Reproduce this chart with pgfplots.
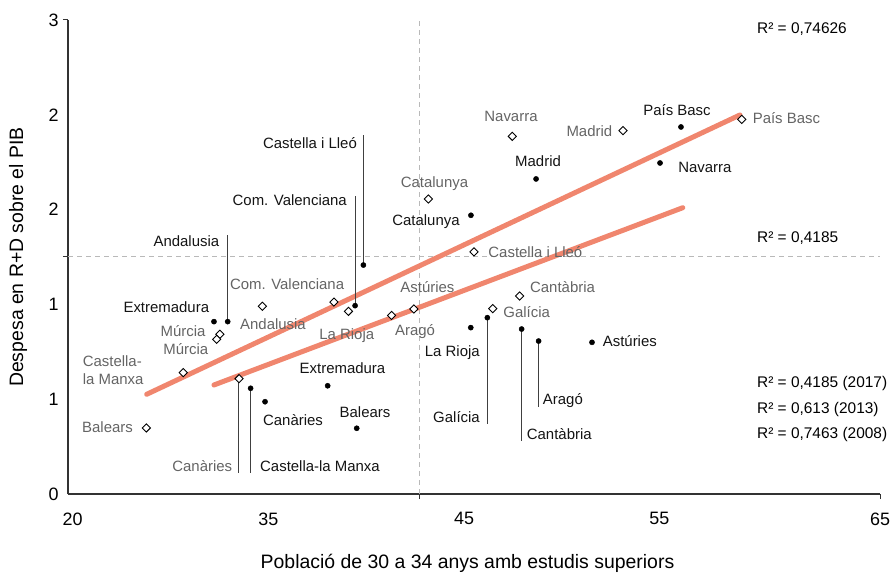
\documentclass[border=0pt]{standalone}
\usepackage{fontspec}
\setmainfont{Liberation Sans}
\usepackage{pgfplots}
\pgfplotsset{compat=1.18}
\definecolor{trend}{RGB}{240,134,110}
\definecolor{labgray}{RGB}{100,100,100}
\definecolor{refgray}{RGB}{185,185,185}
\begin{document}
\begin{tikzpicture}[
  lab/.style={font=\fontsize{15}{17.5}\selectfont, inner sep=0pt, text=black!92, yshift=-3bp},
  glab/.style={lab, text=labgray},
  r2/.style={font=\fontsize{15.5}{18}\selectfont, inner sep=0pt, anchor=mid west, yshift=-4bp},
  leader/.style={black!75, line width=1bp},
]
\begin{axis}[
  name=ax,
  scale only axis, width=812bp, height=474bp,
  xmin=20, xmax=65, ymin=0, ymax=3,
  axis lines=left,
  axis line style={black!80, line width=1.1bp, -},
  xtick={20.26,31.1,41.95,52.77,65}, xticklabels={20,35,45,55,65},
  ytick={0,0.6,1.2,1.8,2.4,3}, yticklabels={0,1,1,2,2,3},
  major tick length=0pt,
  extra x ticks={39.5,65}, extra x tick labels={},
  extra y ticks={1.5,3}, extra y tick labels={},
  extra tick style={major tick length=5bp, tick align=outside, tick style={black!80, line width=1bp}},
  ticklabel style={font=\fontsize{18}{20}\selectfont},
  xticklabel style={yshift=-15bp},
  yticklabel style={xshift=-6bp},
  xlabel={Població de 30 a 34 anys amb estudis superiors},
  ylabel={Despesa en R+D sobre el PIB},
  label style={font=\fontsize{19.5}{22}\selectfont},
  xlabel style={at={(axis description cs:0.492,-0.146)}, anchor=center},
  ylabel style={at={(axis description cs:-0.0616,0.5)}, anchor=center},
  clip=false,
]
% reference lines
\addplot[refgray, line width=1bp, dash pattern=on 5bp off 4bp] coordinates {(39.5,0) (39.5,3)};
\addplot[refgray, line width=1bp, dash pattern=on 5bp off 4bp] coordinates {(20,1.5) (65,1.5)};
% trend lines
\addplot[trend, line width=5bp, line cap=round] coordinates {(24.36,0.631) (57.24,2.399)};
\addplot[trend, line width=5bp, line cap=round] coordinates {(28.09,0.690) (54.07,1.812)};
% leader lines
\addplot[leader] coordinates {(36.37,1.449) (36.37,2.272)};
\addplot[leader] coordinates {(35.91,1.192) (35.91,1.886)};
\addplot[leader] coordinates {(28.85,1.091) (28.85,1.639)};
\addplot[leader] coordinates {(30.12,0.669) (30.12,0.135)};
\addplot[leader] coordinates {(29.45,0.730) (29.45,0.135)};
\addplot[leader] coordinates {(43.24,1.116) (43.24,0.443)};
\addplot[leader] coordinates {(45.14,1.044) (45.14,0.335)};
\addplot[leader] coordinates {(46.08,0.968) (46.08,0.553)};
% black dots
\addplot[only marks, mark=*, mark size=2.6bp, black] coordinates {
(53.97,2.323) (52.81,2.095) (45.94,1.994) (42.33,1.764) (36.37,1.449)
(35.91,1.192) (28.85,1.091) (28.09,1.091) (34.39,0.685) (36.00,0.416)
(30.92,0.584) (30.12,0.669) (42.32,1.053) (43.24,1.116) (45.14,1.044)
(46.08,0.968) (49.04,0.960)
};
% diamonds
\addplot[only marks, mark=square*, mark size=2.9bp, mark options={rotate=45, fill=white, draw=black, line width=0.9bp}] coordinates {
(57.34,2.371) (50.76,2.300) (44.62,2.264) (39.97,1.867) (42.50,1.532)
(45.03,1.253) (43.54,1.173) (39.17,1.171) (37.93,1.130) (35.54,1.156)
(34.74,1.215) (30.77,1.188) (28.42,1.011) (28.24,0.979) (26.39,0.768)
(29.48,0.730) (24.34,0.418)
};
% black labels
\node[lab, anchor=mid] at (axis cs:53.75,2.430) {País Basc};
\node[lab, anchor=mid west] at (axis cs:53.81,2.072) {Navarra};
\node[lab, anchor=mid] at (axis cs:46.05,2.108) {Madrid};
\node[lab, anchor=mid] at (axis cs:39.84,1.734) {Catalunya};
\node[lab, anchor=mid east] at (axis cs:36.02,2.222) {Castella i Lleó};
\node[lab, anchor=mid east] at (axis cs:35.46,1.861) {Com. Valenciana};
\node[lab, anchor=mid east] at (axis cs:28.39,1.601) {Andalusia};
\node[lab, anchor=mid east] at (axis cs:27.83,1.186) {Extremadura};
\node[lab, anchor=mid] at (axis cs:35.21,0.796) {Extremadura};
\node[lab, anchor=mid] at (axis cs:36.46,0.521) {Balears};
\node[lab, anchor=mid] at (axis cs:32.47,0.468) {Canàries};
\node[lab, anchor=mid west] at (axis cs:30.64,0.177) {Castella-la Manxa};
\node[lab, anchor=mid east] at (axis cs:42.83,0.905) {La Rioja};
\node[lab, anchor=mid east] at (axis cs:42.83,0.489) {Galícia};
\node[lab, anchor=mid west] at (axis cs:45.42,0.378) {Cantàbria};
\node[lab, anchor=mid west] at (axis cs:46.31,0.601) {Aragó};
\node[lab, anchor=mid west] at (axis cs:49.63,0.968) {Astúries};
% gray labels
\node[glab, anchor=mid west] at (axis cs:57.94,2.378) {País Basc};
\node[glab, anchor=mid east] at (axis cs:50.17,2.297) {Madrid};
\node[glab, anchor=mid] at (axis cs:44.55,2.392) {Navarra};
\node[glab, anchor=mid] at (axis cs:40.31,1.973) {Catalunya};
\node[glab, anchor=mid west] at (axis cs:43.29,1.530) {Castella i Lleó};
\node[glab, anchor=mid west] at (axis cs:45.60,1.308) {Cantàbria};
\node[glab, anchor=mid west] at (axis cs:44.12,1.150) {Galícia};
\node[glab, anchor=mid] at (axis cs:39.92,1.308) {Astúries};
\node[glab, anchor=mid] at (axis cs:39.23,1.038) {Aragó};
\node[glab, anchor=mid] at (axis cs:35.45,1.011) {La Rioja};
\node[glab, anchor=mid] at (axis cs:32.14,1.329) {Com. Valenciana};
\node[glab, anchor=mid] at (axis cs:31.36,1.074) {Andalusia};
\node[glab, anchor=mid] at (axis cs:26.38,1.032) {Múrcia};
\node[glab, anchor=mid] at (axis cs:26.53,0.916) {Múrcia};
\node[glab, anchor=west, align=left] at (axis cs:20.81,0.804) {Castella-\\la Manxa};
\node[glab, anchor=mid east] at (axis cs:29.11,0.177) {Canàries};
\node[glab, anchor=mid] at (axis cs:22.19,0.426) {Balears};
% R2 notes
\node[r2] at (axis cs:58.18,2.956) {R² = 0,74626};
\node[r2] at (axis cs:58.18,1.633) {R² = 0,4185};
\node[r2] at (axis cs:58.18,0.717) {R² = 0,4185 (2017)};
\node[r2] at (axis cs:58.18,0.552) {R² = 0,613 (2013)};
\node[r2] at (axis cs:58.18,0.392) {R² = 0,7463 (2008)};
\end{axis}
\pgfresetboundingbox
\path (ax.south west) ++(-68bp,-81bp) rectangle ++(893bp,575bp);
\end{tikzpicture}
\end{document}
